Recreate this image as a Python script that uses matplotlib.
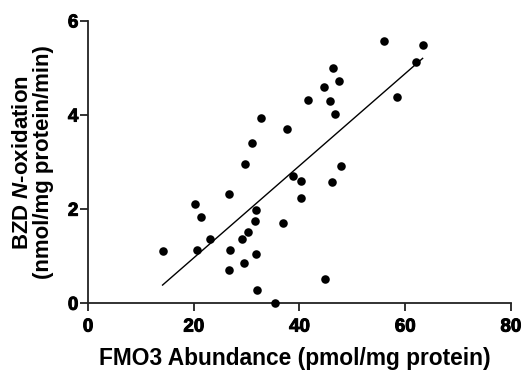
import numpy as np
import matplotlib
matplotlib.use('Agg')
import matplotlib.pyplot as plt
from matplotlib.font_manager import FontProperties
import matplotlib.patheffects as pe

# FMO3 abundance vs BZD N-oxidation
fmo3 = [14.1, 20.2, 21.4, 20.7, 23.1, 26.7, 26.8, 26.7, 29.7, 31.0, 32.8,
        31.8, 31.5, 30.2, 29.1, 31.8, 29.5, 32.0, 35.4, 36.9, 37.6, 38.7,
        40.3, 40.3, 41.6, 44.6, 45.7, 46.4, 47.5, 46.7, 47.8, 46.1, 44.9,
        55.9, 58.5, 62.1, 63.3]
noxid = [1.12, 2.12, 1.84, 1.13, 1.36, 2.32, 1.13, 0.70, 2.97, 3.41, 3.93,
         1.99, 1.74, 1.52, 1.37, 1.05, 0.86, 0.28, 0.00, 1.71, 3.71, 2.71,
         2.60, 2.24, 4.33, 4.60, 4.29, 4.99, 4.72, 4.03, 2.92, 2.57, 0.51,
         5.58, 4.39, 5.12, 5.48]
xticks = [0, 20, 40, 60, 80]
yticks = [0, 2, 4, 6]

plt.rcParams['font.family'] = ['Liberation Sans', 'DejaVu Sans']
plt.rcParams['font.weight'] = 'bold'
plt.rcParams['mathtext.fontset'] = 'custom'
plt.rcParams['mathtext.it'] = 'Liberation Sans:italic:bold'

tickfont = FontProperties(family='Liberation Sans', weight='bold', size=13.5)
thick = [pe.withStroke(linewidth=0.7, foreground='black')]

fig = plt.figure(figsize=(5.24, 3.71), dpi=100)
ax = fig.add_axes([0.168, 0.1825, 0.807, 0.761])

x = np.array(fmo3)
y = np.array(noxid)
ax.scatter(x, y, s=38, color='black', zorder=3, clip_on=False, linewidths=0)

slope, icpt = np.polyfit(x, y, 1)
xl = np.array([x.min(), x.max()])
ax.plot(xl, slope * xl + icpt, color='black', lw=1.0)

ax.set_xlim(0, 80)
ax.set_ylim(0, 6)
for s in ['top', 'right']:
    ax.spines[s].set_visible(False)
for s in ['left', 'bottom']:
    ax.spines[s].set_linewidth(1.3)
    ax.spines[s].set_color('#222222')
ax.tick_params(axis='x', length=6, width=1.3, pad=5, color='#222222', labelcolor='black')
ax.tick_params(axis='y', length=6, width=1.3, pad=1, color='#222222', labelcolor='black')
ax.set_xticks(xticks)
ax.set_yticks(yticks)
ax.set_xticklabels([str(v) for v in xticks], fontproperties=tickfont)
ax.set_yticklabels([str(v) for v in yticks], fontproperties=tickfont)
for lab in ax.get_xticklabels() + ax.get_yticklabels():
    lab.set_path_effects(thick)

ax.set_xlabel('FMO3 Abundance (pmol/mg protein)', fontsize=16.4, fontweight='bold', labelpad=8)
ax.xaxis.label.set_x(0.488)
ax.set_ylabel('BZD $\\mathit{N}$-oxidation\n(nmol/mg protein/min)', fontsize=16,
              fontweight='bold', labelpad=10, linespacing=1.0)

plt.savefig('out.png', dpi=100)
